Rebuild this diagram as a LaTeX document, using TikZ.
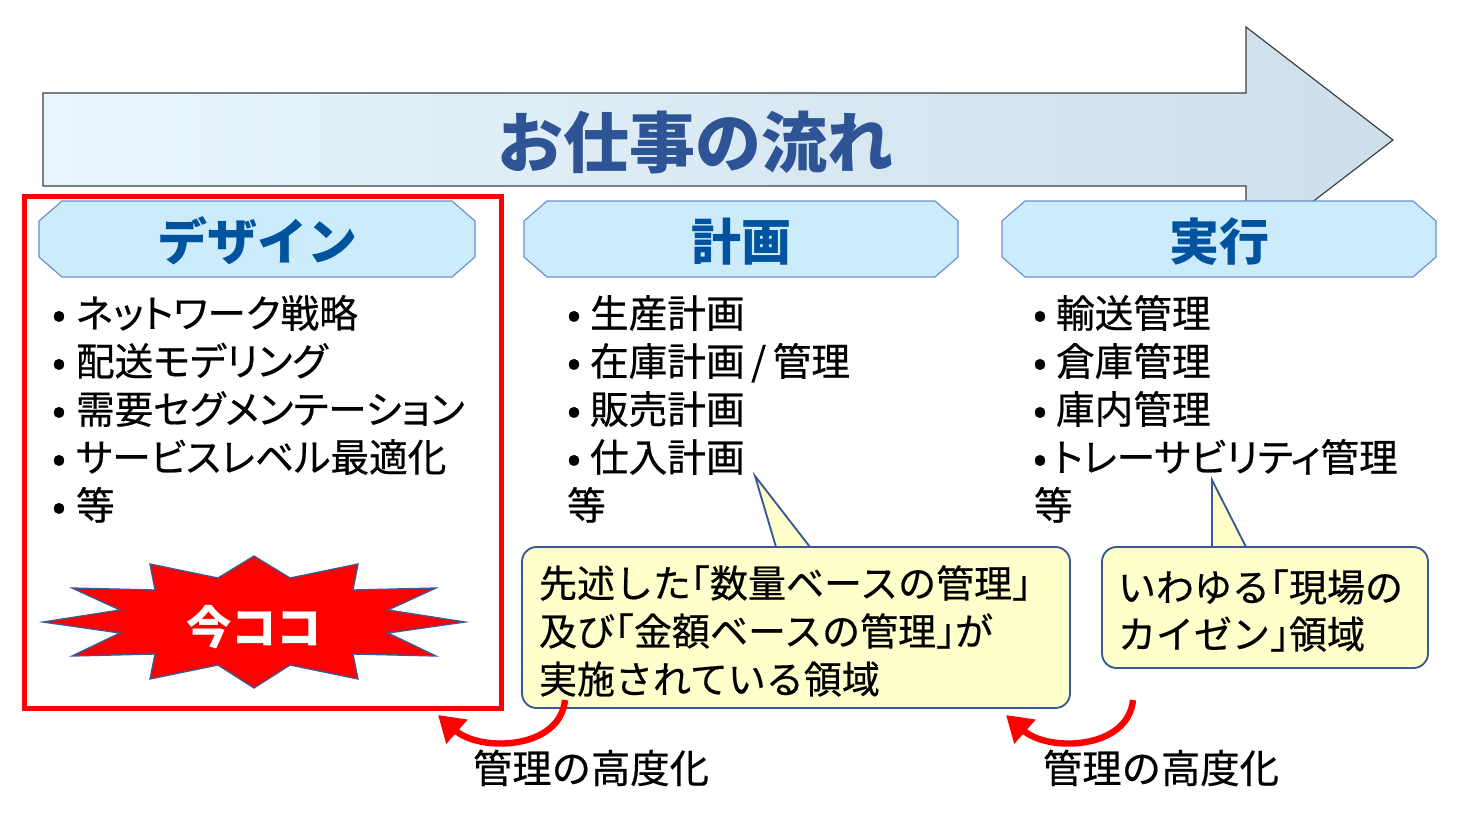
\documentclass[tikz,border=0pt]{standalone}
\usepackage{fontspec}
\setmainfont{Noto Sans CJK JP}
\newfontfamily\bodyfont{Noto Sans CJK JP}[FakeBold=0.5]
\newfontfamily\listfont{Noto Sans CJK JP}[FakeBold=0.5,RawFeature={+palt}]
\usetikzlibrary{arrows.meta}
\definecolor{titleblue}{HTML}{2F5496}
\definecolor{headblue}{HTML}{00549F}
\definecolor{hexfill}{HTML}{CCEBFB}
\definecolor{hexline}{HTML}{6C8FCF}
\definecolor{callfill}{HTML}{FFFFCC}
\definecolor{callline}{HTML}{3A5895}
\definecolor{starline}{HTML}{3B5A97}
\definecolor{arrL}{HTML}{E8F5FD}
\definecolor{arrR}{HTML}{CDDFEA}
\definecolor{arrline}{HTML}{404040}
\begin{document}
\begin{tikzpicture}[x=0.75pt,y=-0.75pt,
  every node/.style={inner sep=0pt,outer sep=0pt},
  hexbox/.style={draw=hexline,fill=hexfill,line width=0.9pt},
  headtxt/.style={font=\fontsize{37.5}{37.5}\selectfont\bfseries,text=headblue,text height=33pt,text depth=4.5pt},
  itm/.style={anchor=west,font=\listfont\fontsize{29}{29}\selectfont,text height=25.52pt,text depth=3.48pt},
  bul/.style={font=\bodyfont\fontsize{30}{30}\selectfont,text height=26.4pt,text depth=3.6pt},
  callout/.style={draw=callline,fill=callfill,line width=1.4pt,rounded corners=11pt},
  calltxt/.style={anchor=west,font=\bodyfont\fontsize{28.5}{28.5}\selectfont,text height=25.08pt,text depth=3.42pt},
  redarr/.style={draw=red,line width=4.8pt,-{Triangle[length=19pt,width=23pt]}},
  lbl/.style={font=\bodyfont\fontsize{29.5}{29.5}\selectfont,text height=25.96pt,text depth=3.54pt},
]
\useasboundingbox (0,0) rectangle (1459,822);
\fill[white] (0,0) rectangle (1459,822);

% big flow arrow
\draw[draw=arrline,line width=0.9pt,left color=arrL,right color=arrR]
  (43,93) -- (1246,93) -- (1246,27) -- (1393,140) -- (1246,253) -- (1246,186) -- (43,186) -- cycle;
\node[font=\fontsize{49.5}{49.5}\selectfont\bfseries,text=titleblue,text height=43.56pt,text depth=5.94pt] (title) at (695,142) {お仕事の流れ};

% red frame
\draw[red,line width=3.75pt] (24,196) rectangle (501,708);

% heading boxes
\draw[hexbox] (62,201) -- (452,201) -- (475,221) -- (475,257) -- (452,277) -- (62,277) -- (39,257) -- (39,221) -- cycle;
\draw[hexbox] (547,201) -- (935,201) -- (958,221) -- (958,257) -- (935,277) -- (547,277) -- (524,257) -- (524,221) -- cycle;
\draw[hexbox] (1025,201) -- (1413,201) -- (1436,221) -- (1436,257) -- (1413,277) -- (1025,277) -- (1002,257) -- (1002,221) -- cycle;
\node[headtxt] (hd) at (257,241) {デザイン};
\node[headtxt] (hp) at (741,241) {計画};
\node[headtxt] (he) at (1219,241) {実行};

% lists
\foreach \t [count=\i] in {ネットワーク戦略,配送モデリング,需要セグメンテーション,サービスレベル最適化,等}{
  \node[bul] (db\i) at (59,313+48*\i-48) {•};
  \node[itm] (d\i) at (76,313+48*\i-48) {\t};
}
\foreach \t [count=\i] in {生産計画,在庫計画\,/\,管理,販売計画,仕入計画}{
  \node[bul] (pb\i) at (574,313+48*\i-48) {•};
  \node[itm] (p\i) at (590,313+48*\i-48) {\t};
}
\node[itm] (p5) at (567,505) {等};
\foreach \t [count=\i] in {輸送管理,倉庫管理,庫内管理}{
  \node[bul] (eb\i) at (1040,313+48*\i-48) {•};
  \node[itm] (e\i) at (1056,313+48*\i-48) {\t};
}
\node[bul] (eb4) at (1040,457) {•};
\node[itm] (e4) at (1053,457) {トレーサビリティ管理};
\node[itm] (e5) at (1034,505) {等};

% starburst
\draw[fill=red,draw=starline,line width=1pt]
 (254,556) -- (290,578) -- (358,564) -- (353,590) -- (436,588) -- (388,610) -- (465,622)
 -- (388,633) -- (436,656) -- (353,654) -- (358,679) -- (290,665) -- (254,688)
 -- (218,665) -- (150,679) -- (155,654) -- (72,656) -- (120,633) -- (43,622)
 -- (120,610) -- (72,588) -- (155,590) -- (150,564) -- (218,578) -- cycle;
\node[font=\fontsize{34}{34}\selectfont\bfseries,text=white,text height=29.92pt,text depth=4.08pt] (now) at (254,627) {今ココ};

% callout 1
\coordinate (c1tip) at (755,476);
\fill[callfill] (776,549) -- (c1tip) -- (810,549) -- cycle;
\draw[callline,line width=1.4pt,line join=miter] (776,547) -- (c1tip) -- (810,547);
\draw[callout] (522,547) rectangle (1070,708);
\node[calltxt] (c1a) at (539,583) {先述した｢数量ベースの管理｣};
\node[calltxt] (c1b) at (539,631) {及び｢金額ベースの管理｣が};
\node[calltxt] (c1c) at (539,679) {実施されている領域};

% callout 2
\coordinate (c2tip) at (1212,480);
\fill[callfill] (1212,549) -- (c2tip) -- (1246,549) -- cycle;
\draw[callline,line width=1.4pt,line join=miter] (1212,547) -- (c2tip) -- (1246,547);
\draw[callout] (1102,547) rectangle (1428,668);
\node[calltxt] (c2a) at (1118,587) {いわゆる｢現場の};
\node[calltxt] (c2b) at (1118,634) {カイゼン｣領域};

% red curved arrows
\coordinate (a1s) at (565,700);
\coordinate (a1e) at (438,715);
\coordinate (a2s) at (1133,700);
\coordinate (a2e) at (1006,715);
\draw[redarr] (a1s) .. controls (560,750) and (480,752) .. (a1e);
\draw[redarr] (a2s) .. controls (1128,750) and (1048,752) .. (a2e);
\node[lbl] (l1) at (591,768) {管理の高度化};
\node[lbl] (l2) at (1161,768) {管理の高度化};
\end{tikzpicture}
\end{document}
